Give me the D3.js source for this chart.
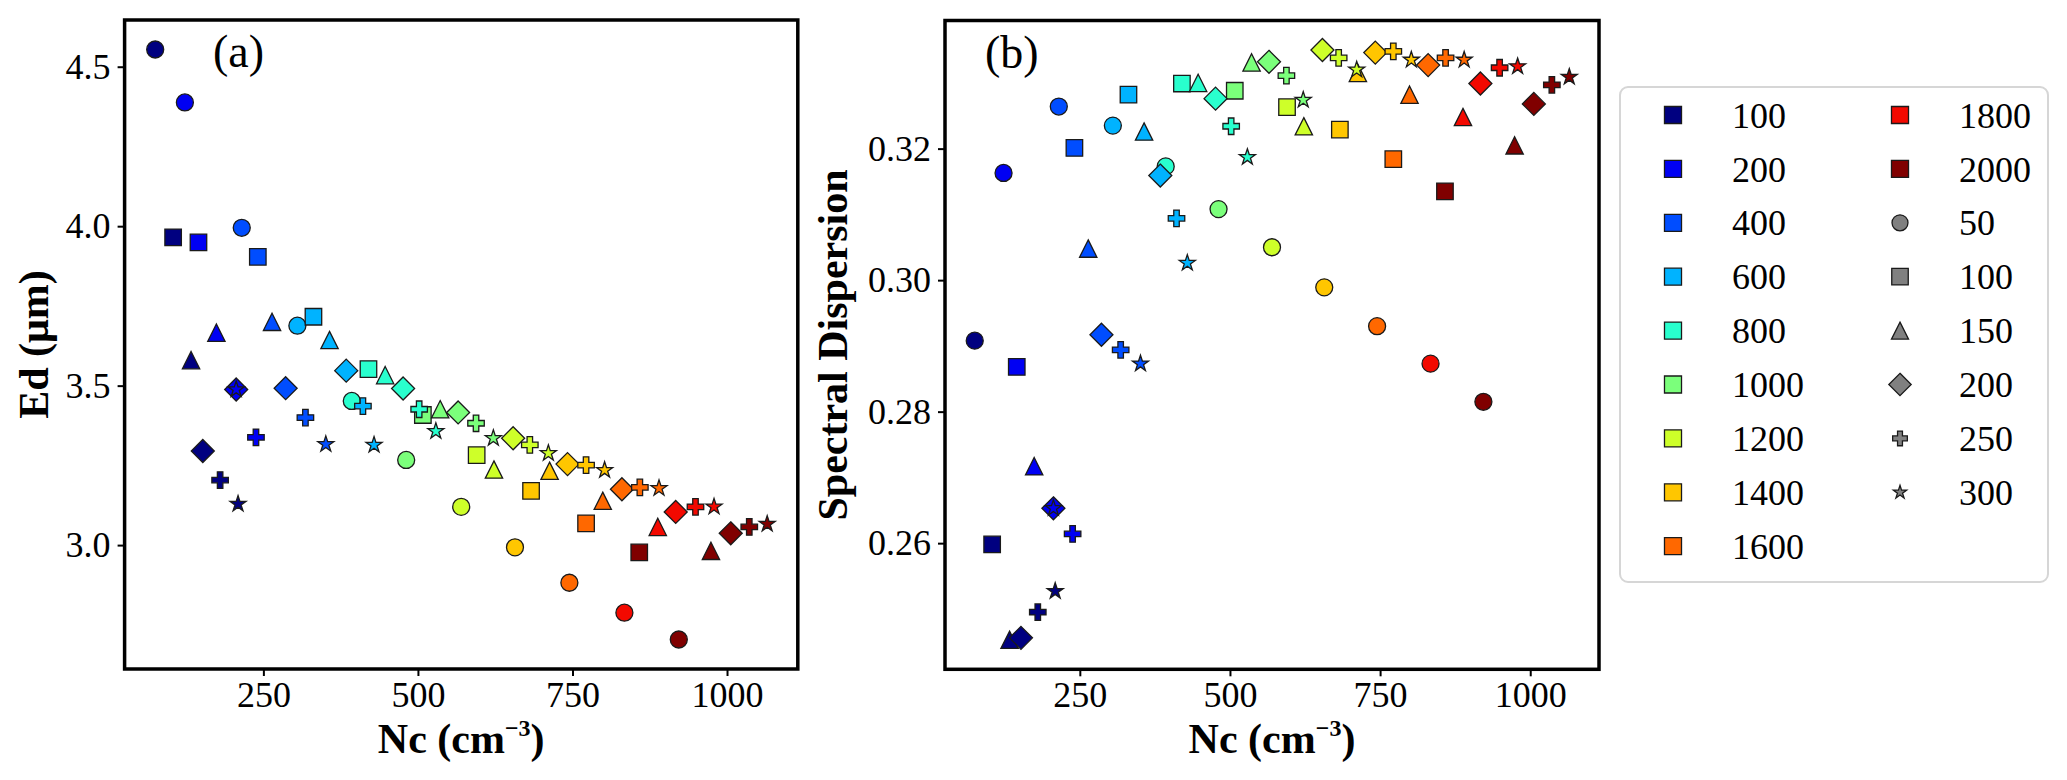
<!DOCTYPE html>
<html>
<head>
<meta charset="utf-8">
<script src="https://cdn.jsdelivr.net/npm/d3@7"></script>
<style>
  body { margin: 0; background: #fff; }
  text { font-family: "Liberation Serif", "Times New Roman", serif; fill: #000; }
</style>
</head>
<body>
<svg id="chart" width="2067" height="780"></svg>
<script>
// colour groups (legend entries drawn as coloured squares)
var colorLevels = [100, 200, 400, 600, 800, 1000, 1200, 1400, 1600, 1800, 2000];
// marker groups (legend entries drawn as grey markers)
var markerLevels = [50, 100, 150, 200, 250, 300];

// rows = colour level, columns = marker level (50,100,150,200,250,300); null = no point
var ncValues = [
  [75, 104, 133, 152, 180, 209],
  [123, 145, 174, 206, 238, 206],
  [215, 241, 264, 286, 318, 351],
  [305, 331, 357, 384, 411, 429],
  [393, 420, 447, 476, 502, 529],
  [481, 508, 536, 565, 594, 622],
  [570, 595, 623, 654, 681, 711],
  [657, 683, 713, 742, 772, 802],
  [745, 772, 799, 830, 859, 890],
  [834, null, 888, 917, 949, 979],
  [922, 858, 974, 1006, 1036, 1065]
];

var edValues = [
  [4.554, 3.965, 3.580, 3.295, 3.204, 3.129],
  [4.388, 3.949, 3.666, 3.488, 3.338, 3.488],
  [3.995, 3.904, 3.700, 3.492, 3.400, 3.316],
  [3.688, 3.716, 3.643, 3.547, 3.436, 3.314],
  [3.452, 3.552, 3.533, 3.491, 3.426, 3.357],
  [3.267, 3.408, 3.426, 3.416, 3.382, 3.335],
  [3.120, 3.282, 3.237, 3.335, 3.314, 3.288],
  [2.993, 3.170, 3.233, 3.254, 3.251, 3.235],
  [2.882, 3.068, 3.139, 3.175, 3.181, 3.178],
  [2.788, null, 3.057, 3.104, 3.120, 3.120],
  [2.704, 2.977, 2.982, 3.037, 3.057, 3.066]
];

var sdValues = [
  [0.2908, 0.2598, 0.2453, 0.2456, 0.2495, 0.2527],
  [0.3163, 0.2868, 0.2717, 0.2653, 0.2614, 0.2653],
  [0.3264, 0.3201, 0.3048, 0.2917, 0.2894, 0.2873],
  [0.3235, 0.3282, 0.3226, 0.3159, 0.3094, 0.3026],
  [0.3173, 0.3299, 0.3300, 0.3276, 0.3234, 0.3187],
  [0.3108, 0.3288, 0.3331, 0.3332, 0.3311, 0.3274],
  [0.3050, 0.3263, 0.3234, 0.3350, 0.3338, 0.3320],
  [0.2989, 0.3229, 0.3315, 0.3346, 0.3348, 0.3335],
  [0.2930, 0.3184, 0.3282, 0.3327, 0.3338, 0.3335],
  [0.2873, null, 0.3248, 0.3299, 0.3323, 0.3325],
  [0.2815, 0.3135, 0.3205, 0.3268, 0.3297, 0.3309]
];

var xTicks = [250, 500, 750, 1000];
var edTicks = [3.0, 3.5, 4.0, 4.5];
var sdTicks = [0.26, 0.28, 0.30, 0.32];

var svg = d3.select("#chart");

// jet colormap, sampled at i/10
var jetR = d3.scaleLinear().domain([0, 0.35, 0.66, 0.89, 1]).range([0, 0, 1, 1, 0.5]);
var jetG = d3.scaleLinear().domain([0, 0.125, 0.375, 0.64, 0.91, 1]).range([0, 0, 1, 1, 0, 0]);
var jetB = d3.scaleLinear().domain([0, 0.11, 0.34, 0.65, 1]).range([0.5, 1, 1, 0, 0]);
function jet(t) {
  return d3.rgb(255 * jetR(t), 255 * jetG(t), 255 * jetB(t)).formatHex();
}
var colorScale = d3.scaleOrdinal()
  .domain(colorLevels)
  .range(colorLevels.map(function (d, i) { return jet(i / (colorLevels.length - 1)); }));

// marker shapes, matplotlib-like
var symTriangle = {
  draw: function (ctx, size) {
    var w = Math.sqrt(size) / 2;
    ctx.moveTo(0, -w); ctx.lineTo(w, w); ctx.lineTo(-w, w); ctx.closePath();
  }
};
var symDiamond = {
  draw: function (ctx, size) {
    var d = Math.sqrt(size) / 2;
    ctx.moveTo(0, -d); ctx.lineTo(d, 0); ctx.lineTo(0, d); ctx.lineTo(-d, 0); ctx.closePath();
  }
};
var markerTypes = [d3.symbolCircle, d3.symbolSquare, symTriangle, symDiamond, d3.symbolCross, d3.symbolStar];
var markerSizes = [227, 272, 300, 529, 151, 80];
var legendSizes = [200, 272, 290, 500, 120, 55];

// flat list of points, drawn marker by marker
var points = [];
markerLevels.forEach(function (m, j) {
  colorLevels.forEach(function (c, i) {
    if (ncValues[i][j] == null) return;
    points.push({ color: c, mj: j, nc: ncValues[i][j], ed: edValues[i][j], sd: sdValues[i][j] });
  });
});

function padded(ext) {
  var p = (ext[1] - ext[0]) * 0.05;
  return [ext[0] - p, ext[1] + p];
}

function drawPanel(box, key, yTicks, yFmt, tag, tagX) {
  var x = d3.scaleLinear()
    .domain(padded(d3.extent(points, function (d) { return d.nc; })))
    .range([box.left, box.right]);
  var y = d3.scaleLinear()
    .domain(padded(d3.extent(points, function (d) { return d[key]; })))
    .range([box.bottom, box.top]);

  var gx = svg.append("g")
    .attr("transform", "translate(0," + box.bottom + ")")
    .call(d3.axisBottom(x).tickValues(xTicks).tickSize(7).tickPadding(5).tickFormat(d3.format("d")));
  var gy = svg.append("g")
    .attr("transform", "translate(" + box.left + ",0)")
    .call(d3.axisLeft(y).tickValues(yTicks).tickSize(7).tickPadding(7).tickFormat(d3.format(yFmt)));
  [gx, gy].forEach(function (g) {
    g.select(".domain").remove();
    g.selectAll(".tick line").attr("stroke", "#000").attr("stroke-width", 2);
    g.selectAll(".tick text")
      .attr("font-size", 36)
      .attr("font-family", "Liberation Serif, Times New Roman, serif")
      .attr("fill", "#000");
  });

  svg.append("g").selectAll("path")
    .data(points)
    .join("path")
    .attr("transform", function (d) { return "translate(" + x(d.nc) + "," + y(d[key]) + ")"; })
    .attr("d", function (d) { return d3.symbol().type(markerTypes[d.mj]).size(markerSizes[d.mj])(); })
    .attr("fill", function (d) { return colorScale(d.color); })
    .attr("stroke", "#1a1a1a")
    .attr("stroke-width", 1.3);

  // frame
  svg.append("rect")
    .attr("x", box.left)
    .attr("y", box.top)
    .attr("width", box.right - box.left)
    .attr("height", box.bottom - box.top)
    .attr("fill", "none")
    .attr("stroke", "#000")
    .attr("stroke-width", 3.5);

  svg.append("text")
    .attr("x", tagX)
    .attr("y", box.top + 47)
    .attr("font-size", 46)
    .text(tag);

  // x label with superscript
  var xl = svg.append("text")
    .attr("x", (box.left + box.right) / 2)
    .attr("y", 753)
    .attr("text-anchor", "middle")
    .attr("font-size", 42)
    .attr("font-weight", "bold");
  xl.append("tspan").text("Nc (cm");
  xl.append("tspan").attr("font-size", 24).attr("dy", -17).text("\u22123");
  xl.append("tspan").attr("dy", 17).text(")");
}

var boxA = { left: 124.6, right: 797.8, top: 20, bottom: 669 };
var boxB = { left: 945, right: 1599, top: 20.5, bottom: 669.3 };

drawPanel(boxA, "ed", edTicks, ".1f", "(a)", 213);
drawPanel(boxB, "sd", sdTicks, ".2f", "(b)", 985);

svg.append("text")
  .attr("transform", "translate(48,344.5) rotate(-90)")
  .attr("text-anchor", "middle")
  .attr("font-size", 42)
  .attr("font-weight", "bold")
  .text("Ed (\u03bcm)");

svg.append("text")
  .attr("transform", "translate(847,345) rotate(-90)")
  .attr("text-anchor", "middle")
  .attr("font-size", 42)
  .attr("font-weight", "bold")
  .text("Spectral Dispersion");

// legend: colour squares first, then grey marker shapes, two columns
var legendItems = colorLevels.map(function (c) {
  return { label: String(c), type: d3.symbolSquare, size: 290, fill: colorScale(c) };
}).concat(markerLevels.map(function (m, j) {
  return { label: String(m), type: markerTypes[j], size: legendSizes[j], fill: "#808080" };
}));

var legend = svg.append("g");
legend.append("rect")
  .attr("x", 1620).attr("y", 87)
  .attr("width", 428).attr("height", 495)
  .attr("rx", 8)
  .attr("fill", "#fff")
  .attr("stroke", "#d6d6d6")
  .attr("stroke-width", 2);

var rowsPerCol = 9;
var rows = legend.selectAll("g.item")
  .data(legendItems)
  .join("g")
  .attr("class", "item")
  .attr("transform", function (d, i) {
    var col = Math.floor(i / rowsPerCol), row = i % rowsPerCol;
    return "translate(" + (col === 0 ? 1673 : 1900) + "," + (115 + row * 53.9) + ")";
  });
rows.append("path")
  .attr("d", function (d) { return d3.symbol().type(d.type).size(d.size)(); })
  .attr("fill", function (d) { return d.fill; })
  .attr("stroke", "#1a1a1a")
  .attr("stroke-width", 1.3);
rows.append("text")
  .attr("x", 59)
  .attr("dy", "0.35em")
  .attr("font-size", 36)
  .text(function (d) { return d.label; });
</script>
</body>
</html>
